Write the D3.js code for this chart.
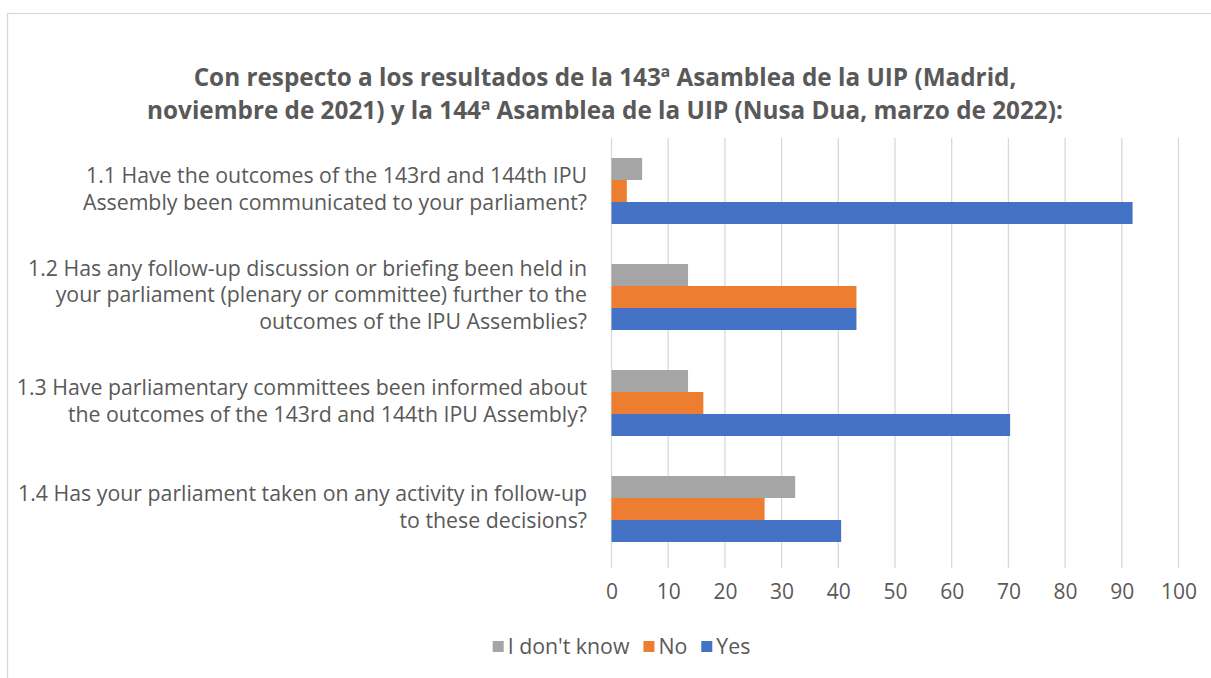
<!DOCTYPE html>
<html><head><meta charset="utf-8">
<script src="https://cdn.jsdelivr.net/npm/d3@7"></script>
<style>body{margin:0;background:#fff;} svg{display:block;}</style>
</head><body>
<script>
const categories = [
  ["1.1 Have the outcomes of the 143rd and 144th IPU", "Assembly been communicated to your parliament?"],
  ["1.2 Has any follow-up discussion or briefing been held in", "your parliament (plenary or committee) further to the", "outcomes of the IPU Assemblies?"],
  ["1.3 Have parliamentary committees been informed about", "the outcomes of the 143rd and 144th IPU Assembly?"],
  ["1.4 Has your parliament taken on any activity in follow-up", "to these decisions?"]
];
const seriesNames = ["I don't know", "No", "Yes"];
const dontKnow = [5.4, 13.5, 13.5, 32.4];
const no = [2.7, 43.2, 16.2, 27.0];
const yes = [91.9, 43.2, 70.3, 40.5];
const tickValues = [0,10,20,30,40,50,60,70,80,90,100];
const titleLines = ["Con respecto a los resultados de la 143ª Asamblea de la UIP (Madrid,", "noviembre de 2021) y la 144ª Asamblea de la UIP (Nusa Dua, marzo de 2022):"];
const colors = ["#A5A5A5", "#ED7D31", "#4472C4"];
const seriesData = [dontKnow, no, yes];

const W = 1211, H = 678;
const svg = d3.select("body").append("svg").attr("width", W).attr("height", H);
const font = "'Open Sans', sans-serif";

// chart border
svg.append("rect").attr("x", 7.5).attr("y", 13.5).attr("width", 1230).attr("height", 700)
  .attr("fill", "none").attr("stroke", "#d9d9d9").attr("stroke-width", 1.3);

const x = d3.scaleLinear().domain([0, 100]).range([611.5, 1178.5]);
const y0 = d3.scaleBand().domain(d3.range(categories.length)).range([138, 562]).paddingInner(40/106).paddingOuter(20/106);
const y1 = d3.scaleBand().domain(d3.range(3)).range([0, y0.bandwidth()]);

// gridlines
svg.append("g").selectAll("line").data(tickValues).join("line")
  .attr("x1", d => x(d)).attr("x2", d => x(d)).attr("y1", 138).attr("y2", 568)
  .attr("stroke", "#d9d9d9").attr("stroke-width", 1.3);

// axis labels
const xAxis = d3.axisBottom(x).tickValues(tickValues).tickSize(0).tickPadding(0);
const ax = svg.append("g").attr("transform", "translate(0,592)").call(xAxis);
ax.select(".domain").remove();
ax.selectAll("text").attr("font-family", font).attr("font-size", "21px").attr("fill", "#595959").attr("dy", "0.35em");

// bars
seriesData.forEach((vals, s) => {
  svg.append("g").selectAll("rect").data(vals).join("rect")
    .attr("x", x(0)).attr("y", (d, i) => y0(i) + y1(s))
    .attr("width", d => x(d) - x(0)).attr("height", y1.bandwidth())
    .attr("fill", colors[s]);
});

// category labels
categories.forEach((lines, i) => {
  const cy = y0(i) + y0.bandwidth() / 2 - 2;
  const lh = 26.5;
  const t = svg.append("text").attr("text-anchor", "end").attr("font-family", font)
    .attr("font-size", "21.3px").attr("fill", "#595959");
  lines.forEach((ln, j) => {
    t.append("tspan").attr("x", 587).attr("y", cy + (j - (lines.length - 1) / 2) * lh).attr("dy", "0.35em").text(ln);
  });
});

// title
const tt = svg.append("text").attr("text-anchor", "middle").attr("font-family", font)
  .attr("font-size", "24.3px").attr("font-weight", "bold").attr("fill", "#595959");
titleLines.forEach((ln, j) => {
  tt.append("tspan").attr("x", 605).attr("y", 77 + j * 33).attr("dy", "0.35em").text(ln);
});

// legend
const lg = svg.append("g");
let lx = 0;
seriesNames.forEach((n, i) => {
  const g = lg.append("g").attr("transform", `translate(${lx},0)`);
  g.append("rect").attr("x", 0).attr("y", 641).attr("width", 11).attr("height", 11).attr("fill", colors[i]);
  const t = g.append("text").attr("x", 15).attr("y", 647).attr("dy", "0.35em").attr("font-family", font)
    .attr("font-size", "21.3px").attr("fill", "#595959").text(n);
  lx += 15 + t.node().getComputedTextLength() + 14;
});
const totalW = lx - 14;
lg.attr("transform", `translate(${621.5 - totalW / 2},0)`);
</script>
</body></html>
